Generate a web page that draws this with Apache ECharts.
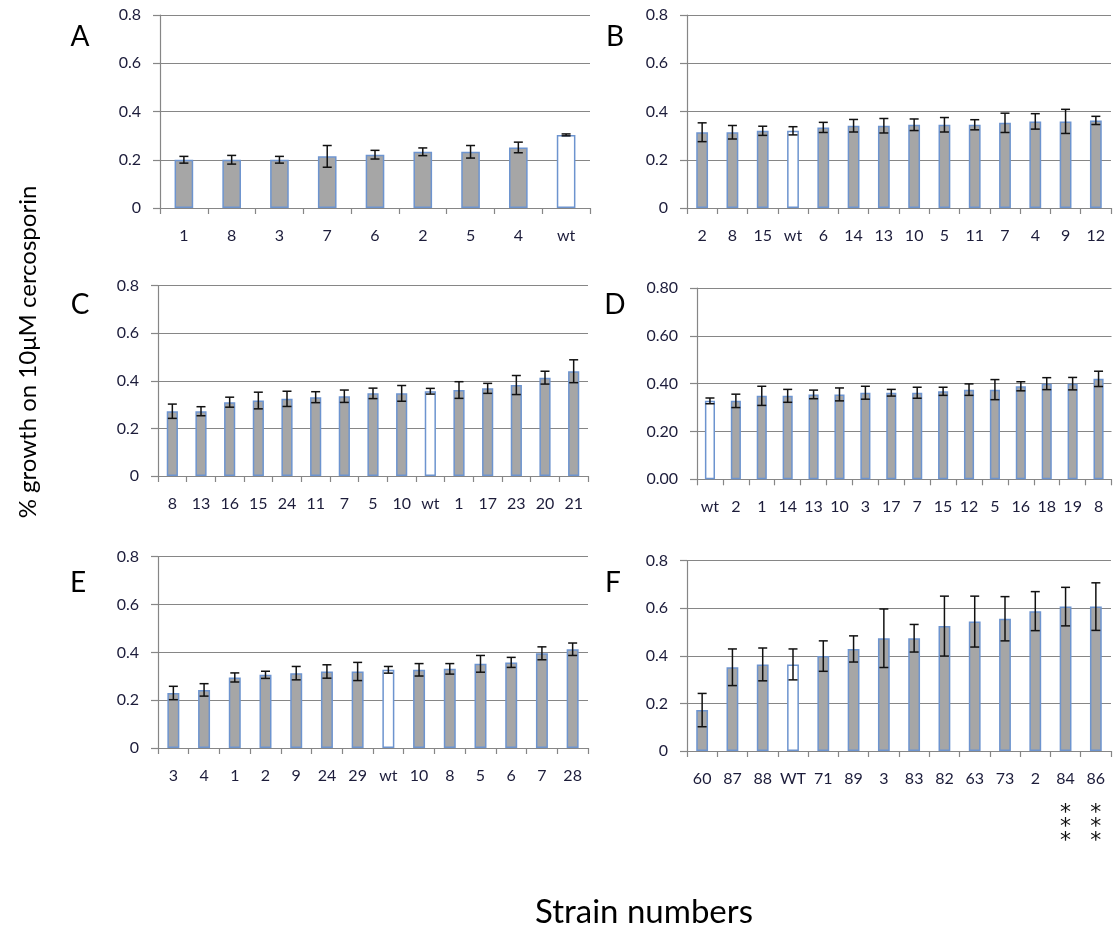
<!DOCTYPE html>
<html>
<head>
<meta charset="utf-8">
<script src="https://cdn.jsdelivr.net/npm/echarts@6/dist/echarts.min.js"></script>
<style>
html,body{margin:0;padding:0;background:#fff;}
#chart{width:1120px;height:928px;}
</style>
</head>
<body>
<div id="chart"></div>
<script>
// ---- Data ----
const catsA = ['1','8','3','7','6','2','5','4','wt'];
const valsA = [0.200,0.200,0.200,0.214,0.221,0.233,0.233,0.251,0.303];
const errA  = [0.014,0.018,0.014,0.045,0.018,0.016,0.026,0.022,0.004];

const catsB = ['2','8','15','wt','6','14','13','10','5','11','7','4','9','12'];
const valsB = [0.314,0.314,0.320,0.320,0.334,0.341,0.341,0.345,0.345,0.345,0.353,0.359,0.359,0.363];
const errB  = [0.039,0.028,0.019,0.017,0.021,0.026,0.030,0.024,0.030,0.021,0.040,0.032,0.050,0.017];

const catsC = ['8','13','16','15','24','11','7','5','10','wt','1','17','23','20','21'];
const valsC = [0.272,0.272,0.310,0.317,0.324,0.331,0.335,0.347,0.347,0.356,0.361,0.368,0.382,0.413,0.440];
const errC  = [0.030,0.019,0.021,0.035,0.032,0.023,0.026,0.022,0.033,0.012,0.035,0.021,0.040,0.027,0.048];

const catsD = ['wt','2','1','14','13','10','3','17','7','15','12','5','16','18','19','8'];
const valsD = [0.328,0.328,0.349,0.349,0.355,0.355,0.362,0.362,0.362,0.368,0.375,0.375,0.389,0.400,0.400,0.420];
const errD  = [0.012,0.028,0.040,0.027,0.018,0.027,0.027,0.014,0.023,0.017,0.024,0.042,0.019,0.025,0.026,0.032];

const catsE = ['3','4','1','2','9','24','29','wt','10','8','5','6','7','28'];
const valsE = [0.230,0.243,0.295,0.306,0.313,0.320,0.320,0.327,0.327,0.331,0.352,0.358,0.396,0.413];
const errE  = [0.028,0.026,0.019,0.015,0.028,0.028,0.038,0.014,0.026,0.022,0.035,0.021,0.027,0.026];

const catsF = ['60','87','88','WT','71','89','3','83','82','63','73','2','84','86'];
const valsF = [0.172,0.352,0.364,0.364,0.399,0.429,0.474,0.474,0.525,0.544,0.556,0.588,0.607,0.607];
const errF  = [0.070,0.077,0.069,0.065,0.064,0.055,0.123,0.058,0.126,0.107,0.093,0.082,0.081,0.100];
const starsF = ['84','86'];   // strains marked with ***

const panelLetters = ['A','B','C','D','E','F'];
const yTitle = '% growth on 10μM cercosporin';
const xTitle = 'Strain numbers';

// ---- Layout ----
const FONT = 'Lato, "Open Sans", sans-serif';
const panels = [
  {cats:catsA, vals:valsA, err:errA, grid:{left:160, top:15, width:430, height:193}, dec:false, letter:[80,37]},
  {cats:catsB, vals:valsB, err:errB, grid:{left:687, top:15, width:424, height:193}, dec:false, letter:[615,37]},
  {cats:catsC, vals:valsC, err:errC, grid:{left:158, top:285.5, width:430, height:190.5}, dec:false, letter:[80,305]},
  {cats:catsD, vals:valsD, err:errD, grid:{left:697, top:288, width:414.5, height:191.3}, dec:true, letter:[615,305]},
  {cats:catsE, vals:valsE, err:errE, grid:{left:158, top:556.7, width:430, height:191.3}, dec:false, letter:[78,583]},
  {cats:catsF, vals:valsF, err:errF, grid:{left:687, top:560.7, width:424, height:190.3}, dec:false, letter:[613,583], stars:starsF}
];

const AX = '#868686';
const STARFONT = '"DejaVu Sans", sans-serif';
const grids=[], xAxes=[], yAxes=[], series=[], graphics=[];
panels.forEach((p,i)=>{
  grids.push(Object.assign({containLabel:false, outerBoundsMode:'none'}, p.grid));
  xAxes.push({
    type:'category', gridIndex:i, data:p.cats,
    axisLine:{lineStyle:{color:AX, width:1.2}},
    axisTick:{show:true, length:6, lineStyle:{color:AX, width:1.2}},
    axisLabel:{
      color:'#1c1c3a', fontFamily:FONT, fontSize:16, lineHeight:16, margin:20, interval:0,
      formatter:(v)=> (p.stars && p.stars.indexOf(v)>=0) ? v+'\n{g| }\n{s|*}\n{s|*}\n{s|*}' : v,
      rich:{
        g:{fontFamily:FONT, fontSize:10, lineHeight:19.5},
        s:{fontFamily:STARFONT, fontSize:22, lineHeight:14, color:'#111'}
      }
    }
  });
  yAxes.push({
    type:'value', gridIndex:i, min:0, max:0.8, interval:0.2,
    axisLine:{show:true, lineStyle:{color:AX, width:1.2}},
    axisTick:{show:true, length:7, lineStyle:{color:AX, width:1.2}},
    splitLine:{show:true, lineStyle:{color:AX, width:1.2}},
    axisLabel:{color:'#1c1c3a', fontFamily:FONT, fontSize:16, margin:19,
      formatter:(v)=> p.dec ? v.toFixed(2) : String(+v.toFixed(1))}
  });
  series.push({
    type:'bar', xAxisIndex:i, yAxisIndex:i, barWidth:'39%',
    data:p.vals.map((v,k)=>{
      const wt = p.cats[k].toLowerCase()==='wt';
      return {value:v, itemStyle:{color: wt ? '#ffffff' : '#a6a6a6', borderColor:'#6d94cf', borderWidth:1.5}};
    }),
    silent:true, animation:false
  });
  series.push({
    type:'custom', xAxisIndex:i, yAxisIndex:i, silent:true, animation:false, z:10,
    data:p.vals.map((v,k)=>[k, v-p.err[k], v+p.err[k]]),
    renderItem:(params, api)=>{
      const lo = api.coord([api.value(0), api.value(1)]);
      const hi = api.coord([api.value(0), api.value(2)]);
      const hw = 4.5;
      const st = {stroke:'#111', lineWidth:1.5};
      return {type:'group', children:[
        {type:'line', shape:{x1:lo[0], y1:lo[1], x2:hi[0], y2:hi[1]}, style:st},
        {type:'line', shape:{x1:lo[0]-hw, y1:lo[1], x2:lo[0]+hw, y2:lo[1]}, style:st},
        {type:'line', shape:{x1:hi[0]-hw, y1:hi[1], x2:hi[0]+hw, y2:hi[1]}, style:st}
      ]};
    }
  });
  graphics.push({type:'text', x:p.letter[0], y:p.letter[1],
    style:{text:panelLetters[i], font:'28px '+FONT, fill:'#000', align:'center', verticalAlign:'middle'}});
});

graphics.push({type:'text', x:28, y:352, rotation:Math.PI/2,
  style:{text:yTitle, font:'24px '+FONT, fill:'#000', align:'center', verticalAlign:'middle'}});
graphics.push({type:'text', x:644, y:912,
  style:{text:xTitle, font:'33px '+FONT, fill:'#000', align:'center', verticalAlign:'middle'}});

const chart = echarts.init(document.getElementById('chart'), null, {renderer:'canvas'});
chart.setOption({
  backgroundColor:'#fff',
  animation:false,
  grid:grids, xAxis:xAxes, yAxis:yAxes, series:series, graphic:graphics
});
</script>
</body>
</html>
